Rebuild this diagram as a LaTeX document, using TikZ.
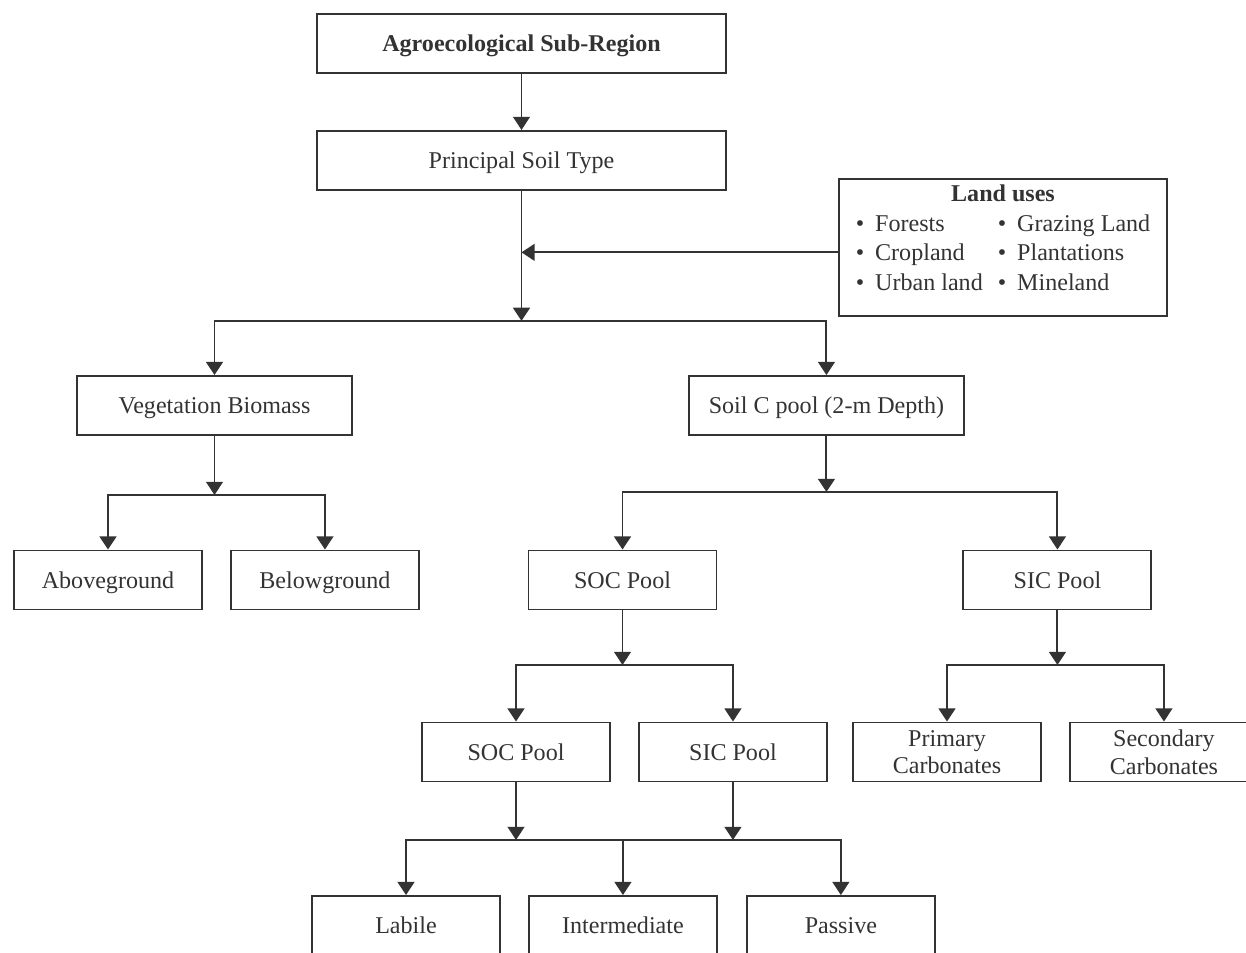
\documentclass[tikz,border=0pt]{standalone}
\usepackage{fontspec}
\setmainfont{Liberation Serif}
\usepackage{tikz}
\usetikzlibrary{shapes.geometric, arrows.meta, calc, positioning}
\definecolor{inkgray}{HTML}{333333}
\tikzstyle{block} = [rectangle, draw=inkgray, line width=1.1pt, minimum height=1.18cm, text centered, align=center, inner sep=2pt]
\tikzstyle{widebox} = [block, text depth=0pt, minimum width=8.18cm]
\tikzstyle{midbox} = [block, text depth=0pt, minimum width=5.5cm]
\tikzstyle{smallbox} = [block, text depth=0pt, minimum width=3.76cm]
\tikzstyle{arrow} = [draw=inkgray, line width=1.1pt, -{Triangle[width=9.6pt,length=7.5pt]}]
\tikzstyle{line} = [draw=inkgray, line width=1.1pt]
\newcommand{\landitem}{\textbullet\hspace{0.22cm}}

\begin{document}
\begin{tikzpicture}[node distance = 10mm, font=\fontsize{13.7}{16.8}\selectfont, text=inkgray]
		\clip (0,0) rectangle (24.92,-19.06);
		\node (Subregion) [widebox] at (10.43,-0.87) {\textbf{Agroecological Sub-Region}};
		\node (SoilType) [widebox, below = 1.12cm of Subregion] {Principal Soil Type};
		\node (LandUses) [block, minimum width=6.56cm, minimum height=0cm, inner ysep=0pt, anchor=north] at (20.06,-3.56) {\begin{tabular}{@{}l@{\hspace{0.3cm}}l@{}}
			\multicolumn{2}{c}{\rule{0pt}{13pt}\textbf{Land uses}}\\
			\landitem Forests & \landitem Grazing Land\\
			\landitem Cropland & \landitem Plantations\\
			\landitem Urban land & \landitem Mineland\\[0.33cm]
			\end{tabular}};
		\coordinate (SplitMain) at ($(SoilType.south)+(0,-2.6)$);
		\node (Vegetation) [midbox] at (4.29,-8.11) {Vegetation Biomass};
		\node (SoilPool) [midbox, right = 6.7cm of Vegetation] {Soil C pool (2-m Depth)};
		\node (Aboveground) [smallbox] at (2.16,-11.6) {Aboveground};
		\node (Belowground) [smallbox, right = 0.54cm of Aboveground] {Belowground};
		\node (SOCPool) [smallbox] at (12.45,-11.6) {SOC Pool};
		\node (SICPool) [smallbox, right = 4.9cm of SOCPool] {SIC Pool};
		\node (SOCSub) [smallbox] at (10.32,-15.04) {SOC Pool};
		\node (SICSub) [smallbox, right = 0.54cm of SOCSub] {SIC Pool};
		\node (Primary) [smallbox] at (18.94,-15.04) {Primary\\[-1pt]Carbonates};
		\node (Secondary) [smallbox, right = 0.54cm of Primary] {Secondary\\[-1pt]Carbonates};
		\node (Labile) [smallbox] at (8.12,-18.51) {Labile};
		\node (Intermediate) [smallbox, right = 0.54cm of Labile] {Intermediate};
		\node (Passive) [smallbox, right = 0.56cm of Intermediate] {Passive};
		\coordinate (SplitVeg) at ($(Vegetation.south)+(0,-1.18)$);
		\coordinate (SplitSoil) at ($(SoilPool.south)+(0,-1.12)$);
		\coordinate (SplitSOC) at ($(SOCPool.south)+(0,-1.09)$);
		\coordinate (SplitSIC) at ($(SICPool.south)+(0,-1.09)$);
		\coordinate (JoinSOC) at ($(SOCSub.south)+(0,-1.15)$);
		\coordinate (JoinSIC) at ($(SICSub.south)+(0,-1.15)$);
		\draw [arrow] (Subregion) -- (SoilType);
		\draw [arrow] (SoilType) -- (SplitMain);
		\draw [arrow] ([yshift=-0.1cm]LandUses.west) -- ([yshift=-0.1cm]LandUses.west -| SoilType.south);
		\draw [arrow] (SplitMain) -| (Vegetation);
		\draw [arrow] (SplitMain) -| (SoilPool);
		\draw [arrow] (Vegetation) -- (SplitVeg);
		\draw [arrow] (SplitVeg) -| (Aboveground);
		\draw [arrow] (SplitVeg) -| (Belowground);
		\draw [arrow] (SoilPool) -- (SplitSoil);
		\draw [arrow] (SplitSoil) -| (SOCPool);
		\draw [arrow] (SplitSoil) -| (SICPool);
		\draw [arrow] (SOCPool) -- (SplitSOC);
		\draw [arrow] (SplitSOC) -| (SOCSub);
		\draw [arrow] (SplitSOC) -| (SICSub);
		\draw [arrow] (SICPool) -- (SplitSIC);
		\draw [arrow] (SplitSIC) -| (Primary);
		\draw [arrow] (SplitSIC) -| (Secondary);
		\draw [arrow] (SOCSub) -- (JoinSOC);
		\draw [arrow] (SICSub) -- (JoinSIC);
		\draw [line] (JoinSOC) -- (JoinSIC);
		\draw [arrow] (JoinSOC) -| (Labile);
		\draw [arrow] (JoinSIC) -| (Passive);
		\draw [arrow] (JoinSOC -| Intermediate) -- (Intermediate);
		\end{tikzpicture}
\end{document}
